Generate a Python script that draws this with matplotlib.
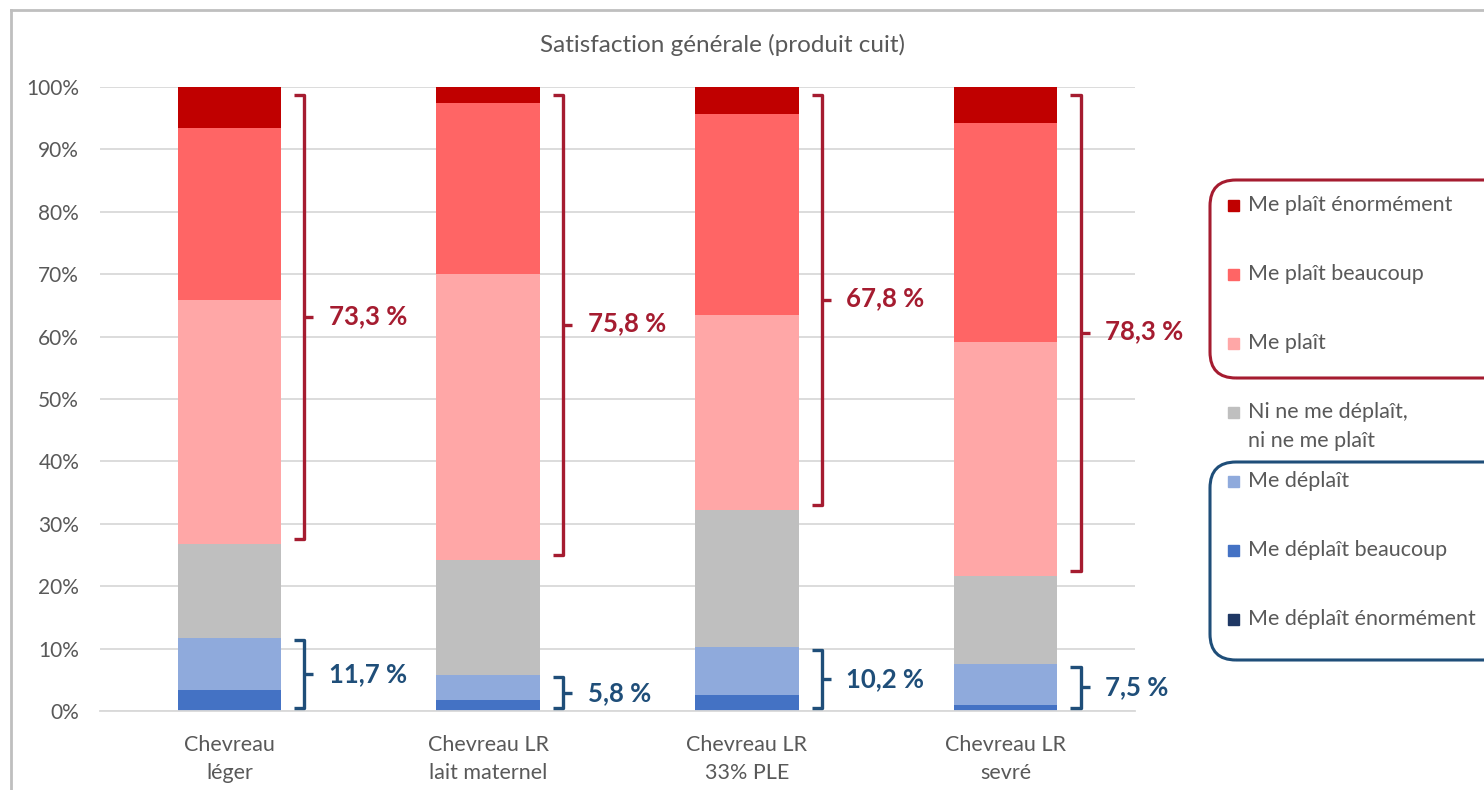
import matplotlib.pyplot as plt
import numpy as np
from matplotlib.lines import Line2D
from matplotlib.patches import FancyBboxPatch, Rectangle
from matplotlib.transforms import IdentityTransform

plt.rcParams['font.family'] = ['Lato', 'DejaVu Sans']

# data: share of answers per product (percent), bottom to top of each bar
categories = ['Chevreau\nléger', 'Chevreau LR\nlait maternel',
              'Chevreau LR\n33% PLE', 'Chevreau LR\nsevré']
deplait_enorm = [0.0, 0.0, 0.0, 0.0]
deplait_bcp = [3.3, 1.7, 2.6, 0.9]
deplait = [8.4, 4.1, 7.6, 6.6]
neutre = [15.0, 18.4, 22.0, 14.2]
plait = [39.2, 45.8, 31.3, 37.4]
plait_bcp = [27.5, 27.4, 32.2, 35.1]
plait_enorm = [6.6, 2.6, 4.3, 5.8]

series = [deplait_enorm, deplait_bcp, deplait, neutre, plait, plait_bcp, plait_enorm]
labels = ['Me déplaît énormément', 'Me déplaît beaucoup', 'Me déplaît',
          'Ni ne me déplaît,\nni ne me plaît', 'Me plaît',
          'Me plaît beaucoup', 'Me plaît énormément']
colors = ['#1F3864', '#4472C4', '#8FAADC', '#BFBFBF',
          '#FFA7A7', '#FF6565', '#C00000']
RED = '#A51C30'
BLUE = '#1F4E79'
GREY_TXT = '#595959'

W, H = 1484, 790
fig = plt.figure(figsize=(W / 100, H / 100), dpi=100)
ax = fig.add_axes([100 / W, 1 - 711 / H, 1035 / W, 624 / H])

x = np.arange(len(categories))
bottom = np.zeros(len(categories))
for vals, col, lab in zip(series, colors, labels):
    ax.bar(x, vals, 0.4, bottom=bottom, color=col, label=lab, zorder=2)
    bottom += np.array(vals)

ax.set_xlim(-0.5, 3.5)
ax.set_ylim(0, 100)
ax.set_yticks(np.arange(0, 101, 10))
ax.set_yticklabels([f'{v}%' for v in range(0, 101, 10)])
ax.set_xticks(x)
ax.set_xticklabels(categories, linespacing=1.5)
ax.tick_params(axis='y', length=0, pad=15, labelsize=15, labelcolor=GREY_TXT)
ax.tick_params(axis='x', length=0, pad=17, labelsize=15.5, labelcolor=GREY_TXT)
ax.grid(axis='y', color='#D9D9D9', linewidth=1.3, zorder=0)
for s in ['top', 'right', 'left']:
    ax.spines[s].set_visible(False)
ax.spines['bottom'].set_color('#D9D9D9')
ax.spines['bottom'].set_linewidth(1.3)


def bracket(xc, y0, y1, color):
    # right-hand curly bracket next to a bar
    xv = xc + 0.29
    ax.plot([xc + 0.25, xv, xv, xc + 0.25], [y1, y1, y0, y0], color=color,
            lw=2.4, solid_joinstyle='round', solid_capstyle='butt',
            clip_on=False, zorder=3)
    ym = (y0 + y1) / 2
    ax.plot([xv, xc + 0.325], [ym, ym], color=color, lw=2.4,
            solid_capstyle='butt', clip_on=False, zorder=3)


neg = np.array(deplait_enorm) + np.array(deplait_bcp) + np.array(deplait)
pos = np.array(plait) + np.array(plait_bcp) + np.array(plait_enorm)
for i in range(len(categories)):
    base = 100 - pos[i]
    bracket(x[i], base + 0.8, 98.7, RED)
    ax.text(x[i] + 0.385, (base + 100) / 2, f'{pos[i]:.1f} %'.replace('.', ','),
            color=RED, fontsize=18.5, fontweight='bold', va='center', ha='left')
    bracket(x[i], 0.5, neg[i] - 0.4, BLUE)
    ax.text(x[i] + 0.385, neg[i] / 2, f'{neg[i]:.1f} %'.replace('.', ','),
            color=BLUE, fontsize=18.5, fontweight='bold', va='center', ha='left')

fig.text(722 / W, 1 - 45 / H, 'Satisfaction générale (produit cuit)',
         ha='center', va='center', fontsize=17.5, color=GREY_TXT)

# legend, top entry first
px = IdentityTransform()
for i, (lab, col) in enumerate(zip(labels[::-1], colors[::-1])):
    yc = H - (205 + 69 * i)
    fig.patches.append(Rectangle((1228, yc - 5.5), 11, 11, color=col,
                                 transform=px, figure=fig))
    fig.text(1248 / W, yc / H, lab.split('\n')[0],
             ha='left', va='center', fontsize=15.5, color=GREY_TXT)
    if '\n' in lab:
        fig.text(1248 / W, (yc - 29) / H, lab.split('\n')[1],
                 ha='left', va='center', fontsize=15.5, color=GREY_TXT)

for y_top, y_bot, col in [(180, 378, RED), (462, 660, BLUE)]:
    fig.patches.append(FancyBboxPatch(
        (1210, H - y_bot), 300, y_bot - y_top,
        boxstyle='round,pad=0,rounding_size=26', fill=False,
        edgecolor=col, linewidth=2.2, transform=px, figure=fig))

# outer frame of the chart area
fig.add_artist(Line2D([11 / W, 1], [1 - 10 / H, 1 - 10 / H],
                      color='#BFBFBF', lw=2, transform=fig.transFigure))
fig.add_artist(Line2D([11 / W, 11 / W], [0, 1 - 10 / H],
                      color='#BFBFBF', lw=2, transform=fig.transFigure))

fig.savefig('out.png', dpi=100)
